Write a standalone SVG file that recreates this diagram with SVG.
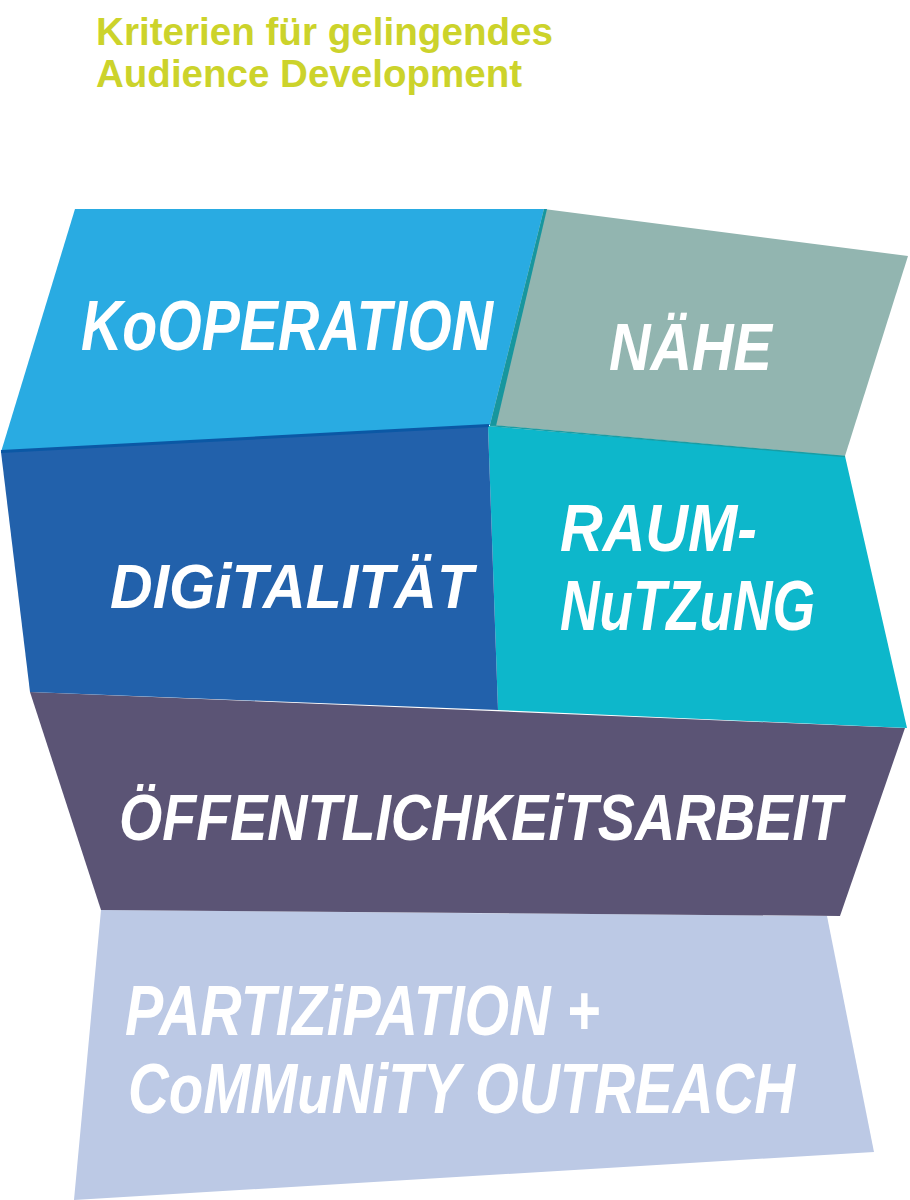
<svg xmlns="http://www.w3.org/2000/svg" width="910" height="1200" viewBox="0 0 910 1200">
<style>
.title{font-family:"Liberation Sans",Arial,sans-serif;font-weight:bold;font-size:38px;fill:#CCD32B}
.lbl{font-family:"Liberation Sans",Arial,sans-serif;font-weight:bold;font-style:italic;fill:#FFFFFF}
</style>
<rect x="0" y="0" width="910" height="1200" fill="#FFFFFF"/>
<g id="title">
<text class="title" x="96" y="45" textLength="457" lengthAdjust="spacingAndGlyphs">Kriterien für gelingendes</text>
<text class="title" x="96" y="87" textLength="426" lengthAdjust="spacingAndGlyphs">Audience Development</text>
</g>
<g id="partizipation">
<polygon points="101,910 827,916 874,1152 74,1200" fill="#BCC9E5"/>
<text class="lbl" x="125" y="1035" font-size="55.7" textLength="475" lengthAdjust="spacingAndGlyphs" transform="matrix(1,0,0,1.25,0,-258.75)">PARTIZiPATION +</text>
<text class="lbl" x="128" y="1113" font-size="56.4" textLength="667" lengthAdjust="spacingAndGlyphs" transform="matrix(1,0,0,1.24,0,-267.12)">CoMMuNiTY OUTREACH</text>
</g>
<g id="oeffentlichkeitsarbeit">
<polygon points="30,692 905,728 840,916 101,910" fill="#5B5475"/>
<text class="lbl" x="119" y="840" font-size="55.6" textLength="723" lengthAdjust="spacingAndGlyphs" transform="matrix(1,0,0,1.18,0,-151.2)">ÖFFENTLICHKEiTSARBEIT</text>
</g>
<g id="naehe">
<polygon points="544,209 908,256 845,456 490,425" fill="#92B5B0"/>
<text class="lbl" x="609" y="370" font-size="57.5" textLength="163" lengthAdjust="spacingAndGlyphs" transform="matrix(1,0,0,1.165,0,-61.05)">NÄHE</text>
</g>
<g id="raumnutzung">
<polygon points="488,426 845,456 907,728 498,710" fill="#0DB7CB"/>
<text class="lbl" x="560" y="551" font-size="59.1" textLength="197" lengthAdjust="spacingAndGlyphs" transform="matrix(1,0,0,1.135,0,-74.39)">RAUM-</text>
<text class="lbl" x="560" y="630" font-size="54.6" textLength="255" lengthAdjust="spacingAndGlyphs" transform="matrix(1,0,0,1.28,0,-176.4)">NuTZuNG</text>
</g>
<g id="digitalitaet">
<polygon points="1,452 488,426 498,710 30,692" fill="#2261AB"/>
<text class="lbl" x="110" y="608" font-size="58.3" textLength="363" lengthAdjust="spacingAndGlyphs" transform="matrix(1,0,0,1.077,0,-46.82)">DIGiTALITÄT</text>
</g>
<g id="kooperation">
<polygon points="75,209 544,209 490,425 1,452" fill="#29ABE2"/>
<text class="lbl" x="81" y="350" font-size="56.6" textLength="412" lengthAdjust="spacingAndGlyphs" transform="matrix(1,0,0,1.235,0,-82.25)">KoOPERATION</text>
</g>
<g id="connectors" fill="none">
<polygon points="544,209 547,209 496,426 490,425" fill="#17969E"/>
<line x1="490" y1="425.5" x2="845" y2="456.5" stroke="#1A9CA3" stroke-width="1.5"/>
<line x1="1" y1="451.5" x2="489" y2="425.5" stroke="#0B58A5" stroke-width="3"/>
</g>
</svg>
